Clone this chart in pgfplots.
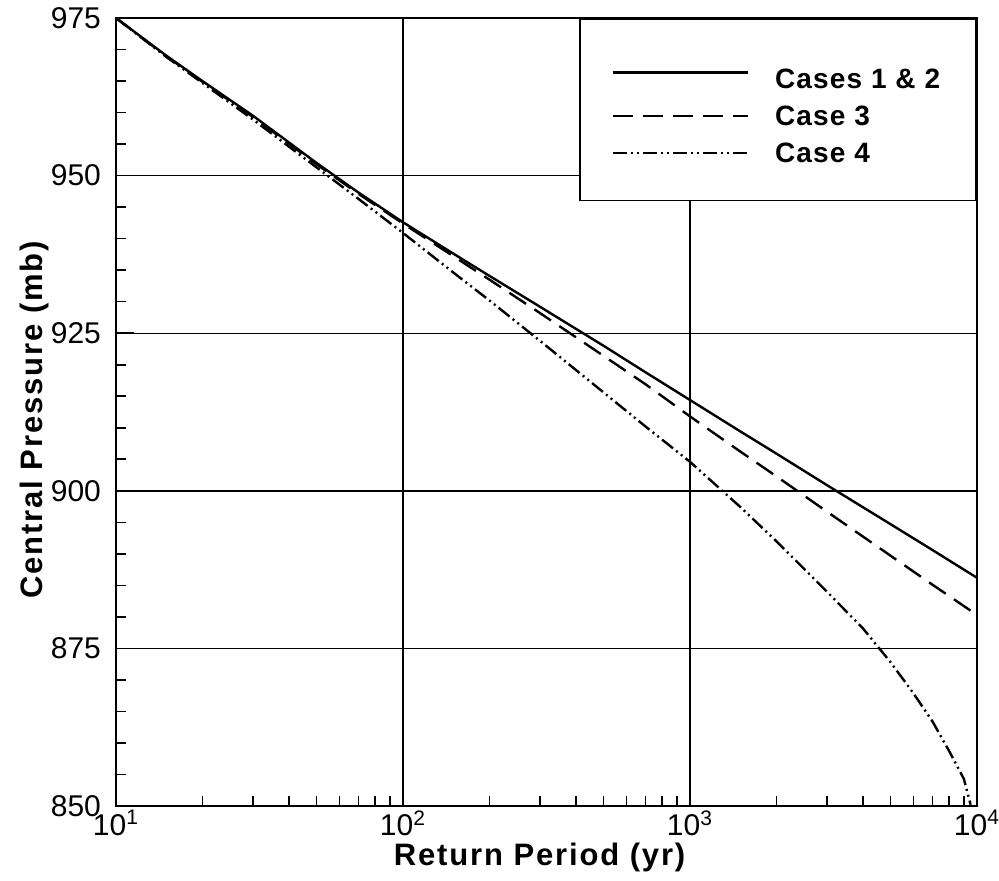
\documentclass[border=0pt]{standalone}
\usepackage{fontspec}
\setmainfont{Liberation Sans}
\usepackage{pgfplots}
\pgfplotsset{compat=1.18}
\begin{document}
\begin{tikzpicture}
\begin{axis}[
  scale only axis,
  width=430.5pt, height=394pt,
  xmode=log,
  xmin=10, xmax=10000,
  ymin=850, ymax=975,
  xtick={10,100,1000,10000},
  xticklabels={10\textsuperscript{1},10\textsuperscript{2},10\textsuperscript{3},10\textsuperscript{4}},
  ytick={850,875,900,925,950,975},
  yticklabels={850,875,900,925,950,975},
  minor y tick num=4,
  tick align=inside,
  tick pos=left,
  major tick length=9pt,
  minor tick length=5pt,
  every tick/.style={black, line width=0.8pt},
  grid=major,
  major grid style={black, line width=0.7pt},
  axis line style={black, line width=1.3pt},
  tick label style={font=\fontsize{15}{18}\selectfont},
  xticklabel style={yshift=-2pt, inner ysep=0pt},
  yticklabel style={xshift=-4pt},
  xlabel={Return Period (yr)},
  ylabel={Central Pressure (mb)},
  label style={font=\fontsize{15.5}{18}\selectfont\bfseries\addfontfeatures{LetterSpace=6}, inner sep=0pt},
  xlabel style={at={(axis description cs:0.492,-0.0761)}, anchor=base},
  ylabel style={at={(axis description cs:-0.0848,0.49)}, anchor=base},
  legend image code/.code={\draw[#1] (0pt,0pt) -- (67.5pt,0pt);},
  legend cell align=left,
  legend style={at={(1,1)}, anchor=north east, draw=black, line width=0.8pt,
    inner xsep=16pt, inner ysep=14.5pt,
    font=\fontsize{14}{16}\selectfont\bfseries\addfontfeatures{LetterSpace=4},
    nodes={inner ysep=2.75pt},
    /tikz/every odd column/.append style={column sep=11pt}},
]
% Cases 1 & 2
\addplot[black, line width=1.2pt] coordinates {
(10,975.0) (15,969.0) (20,965.0) (30,959.5) (50,952.0) (70,947.3) (100,942.6)
(150,937.6) (200,934.1) (300,929.2) (500,923.0) (700,918.8) (1000,914.4)
(1500,909.4) (2000,905.9) (3000,900.9) (5000,894.7) (7000,890.6) (10000,886.2)};
\addlegendentry{\rule[-3pt]{0pt}{20.75pt}Cases 1 \& 2}
% Case 3
\addplot[black, line width=1.2pt, dash pattern=on 10pt off 5pt] coordinates {
(10,975.0) (15,968.9) (20,964.9) (30,959.3) (50,951.8) (70,947.1) (100,942.4)
(150,937.2) (200,933.5) (300,928.2) (500,921.4) (700,916.9) (1000,911.8)
(1500,906.2) (2000,902.3) (3000,896.7) (5000,889.7) (7000,885.1) (10000,880.3)};
\addlegendentry{\rule[-3pt]{0pt}{14.5pt}Case 3}
% Case 4
\addplot[black, line width=1.2pt, dash pattern=on 7pt off 2pt on 1pt off 2pt on 1pt off 2pt] coordinates {
(10,975.0) (15,968.8) (20,964.7) (30,958.9) (50,951.3) (70,946.3) (100,940.9)
(150,934.6) (200,930.2) (300,923.8) (500,915.6) (700,910.2) (1000,904.6)
(1500,897.4) (2000,892.0) (3000,884.0) (4000,878.2) (5000,872.8) (6000,867.9)
(7000,863.4) (8000,858.7) (9000,854.3) (9500,850.2)};
\addlegendentry{\rule[-3pt]{0pt}{14.5pt}Case 4}
\end{axis}
\pgfresetboundingbox
\path (current axis.south west) +(-58pt,-37pt) (current axis.north east) +(11pt,9pt);
\end{tikzpicture}
\end{document}
